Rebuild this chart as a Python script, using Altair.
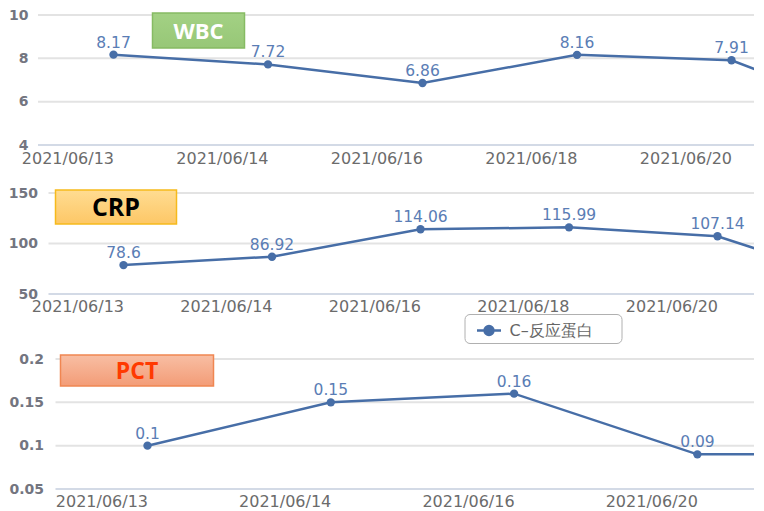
import json
import altair as alt
import pandas as pd

# ---------------- data ----------------
wbc_dates = ["2021/06/13", "2021/06/14", "2021/06/16", "2021/06/18", "2021/06/20"]
wbc_values = [8.17, 7.72, 6.86, 8.16, 7.91, 5.2]      # last point runs off the right edge
wbc_ticks = [4, 6, 8, 10]

crp_dates = ["2021/06/13", "2021/06/14", "2021/06/16", "2021/06/18", "2021/06/20"]
crp_values = [78.6, 86.92, 114.06, 115.99, 107.14, 59.3]  # last point runs off the right edge
crp_ticks = [50, 100, 150]
crp_series = "C–反应蛋白"

pct_dates = ["2021/06/13", "2021/06/14", "2021/06/16", "2021/06/20"]
pct_values = [0.1, 0.15, 0.16, 0.09, 0.09]             # last point runs off the right edge
pct_ticks = [0.05, 0.1, 0.15, 0.2]

LINE = "#476ea7"
LBL = "#5a7db5"
AX = "#6b6b6b"
W = 716


def panel(dates, values, yvals, xdom, height, shift, ypad, xpad, box, legend_name=None,
          legend_pos=None):
    ydom = [min(yvals), max(yvals)]
    df = pd.DataFrame({
        "i": list(range(len(values))),
        "v": values,
        "t": [f"{v:g}" for v in values],
    })
    if legend_name:
        df["s"] = legend_name
    label_expr = json.dumps(dates) + "[datum.value]"
    yscale = alt.Scale(domain=ydom, nice=False, zero=False)
    yaxis = alt.Axis(values=yvals, labelExpr="datum.value + ''", grid=False,
                     ticks=False, domain=False, offset=-shift,
                     labelColor="#737580", labelFont="DejaVu Sans",
                     labelFontWeight="bold", labelFontSize=14, labelPadding=ypad,
                     title=None)
    x = alt.X("i:Q",
              scale=alt.Scale(domain=xdom, nice=False, zero=False),
              axis=alt.Axis(values=list(range(len(dates))), labelExpr=label_expr,
                            labelAlign="right", grid=False, ticks=False, domain=False,
                            labelColor=AX, labelFont="DejaVu Sans", labelFontSize=16,
                            labelPadding=xpad, labelOverlap=False, labelFlush=False,
                            title=None))
    y = alt.Y("v:Q", scale=yscale, axis=yaxis)

    gdf = pd.DataFrame({"g": yvals})
    grid = alt.Chart(gdf).mark_rule(strokeWidth=2).encode(
        y=alt.Y("g:Q", scale=yscale, axis=yaxis),
        x=alt.value(shift), x2=alt.value(W),
        color=alt.condition(alt.datum.g == ydom[0], alt.value("#d3dae6"), alt.value("#e3e3e3")),
    )

    base = alt.Chart(df).encode(x=x, y=y)
    line = base.mark_line(color=LINE, strokeWidth=2.5, clip=True)
    if legend_name:
        pts = base.mark_point(filled=True, size=70, opacity=1, clip=True).encode(
            color=alt.Color("s:N",
                            scale=alt.Scale(domain=[legend_name], range=[LINE]),
                            legend=alt.Legend(
                                title=" ", titleOrient="right", titlePadding=26,
                                titleFontSize=2,
                                orient="none",
                                legendX=legend_pos[0], legendY=legend_pos[1],
                                symbolType="M-1,0L1,0M-0.37,0A0.37,0.37,0,1,0,0.37,0A0.37,0.37,0,1,0,-0.37,0Z",
                                symbolSize=576, symbolStrokeColor=LINE,
                                symbolFillColor=LINE, symbolStrokeWidth=2.5,
                                symbolOffset=8, labelOffset=7,
                                labelFont="DejaVu Sans", labelFontSize=16,
                                labelColor="#666666", padding=3,
                                strokeColor="#b0b0b0", cornerRadius=5,
                                fillColor="white")))
    else:
        pts = base.mark_point(filled=True, size=70, opacity=1, color=LINE, clip=True)
    txt = base.mark_text(dy=-7, baseline="alphabetic", fontSize=15.5, color=LBL,
                         font="DejaVu Sans", clip=True).encode(text="t:N").transform_filter(
        alt.datum.i < len(dates))

    bdf = pd.DataFrame({"name": [box["name"]]})
    bx0, by0, bx1, by1 = box["rect"]
    rect = alt.Chart(bdf).mark_rect(
        fill=alt.Gradient(gradient="linear",
                          stops=[alt.GradientStop(color=box["fill"][0], offset=0),
                                 alt.GradientStop(color=box["fill"][1], offset=1)],
                          x1=0, x2=0, y1=0, y2=1),
        stroke=box["stroke"], strokeWidth=1.5,
    ).encode(x=alt.value(bx0), x2=alt.value(bx1), y=alt.value(by0), y2=alt.value(by1))
    btxt = alt.Chart(bdf).mark_text(
        font="Open Sans", fontWeight="bold", fontSize=box["size"], color=box["color"],
        align="center", baseline="middle",
    ).encode(x=alt.value((bx0 + bx1) / 2), y=alt.value((by0 + by1) / 2 + 1), text="name:N")

    return alt.layer(grid, line, pts, txt, rect, btxt).properties(width=W, height=height)


p1 = panel(wbc_dates, wbc_values, wbc_ticks, [-0.4887, 4.1456], 130, 0, 10, 5,
           {"name": "WBC", "rect": (114.5, -2, 206.5, 33), "fill": ("#a3d184", "#97c777"),
            "stroke": "#86bb63", "color": "white", "size": 22})
p2 = panel(crp_dates, crp_values, crp_ticks, [-0.5758, 4.2457], 101, 10.5, 11, 4,
           {"name": "CRP", "rect": (17.5, -3, 138.5, 31), "fill": ("#ffdc92", "#fdc766"),
            "stroke": "#f6ba1c", "color": "black", "size": 25},
           legend_name=crp_series, legend_pos=(426.5, 121))
p3 = panel(pct_dates, pct_values, pct_ticks, [-0.5974, 3.3088], 130, 17.5, 12, 4,
           {"name": "PCT", "rect": (22.5, -4, 175.5, 27), "fill": ("#f8bea3", "#f39c77"),
            "stroke": "#f08652", "color": "#ff3a00", "size": 23})

inner = alt.vconcat(p1, p2, spacing=20).resolve_legend(color="independent")
chart = alt.vconcat(inner, p3, spacing=8).resolve_legend(
    color="independent"
).properties(
    padding={"left": 0, "top": 0, "right": 0, "bottom": 0}, background="white"
).configure_view(stroke=None)

chart.save("out.html", embed_options={"renderer": "svg", "actions": False})
